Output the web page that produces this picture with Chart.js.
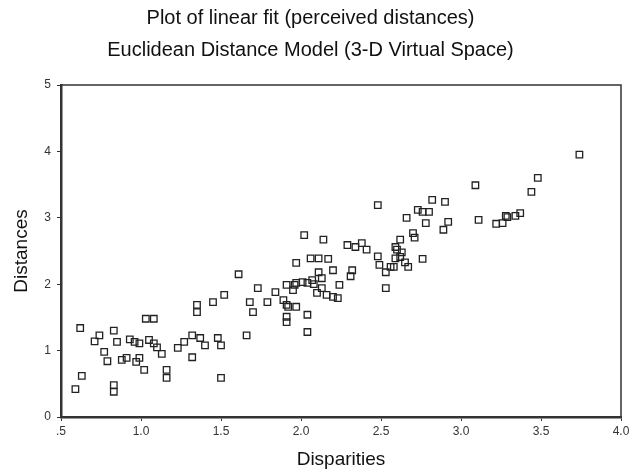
<!DOCTYPE html>
<html>
<head>
<meta charset="utf-8">
<script src="https://cdn.jsdelivr.net/npm/chart.js@4"></script>
<style>
  html, body { margin: 0; padding: 0; background: #fff; }
  #wrap { width: 636px; height: 472px; }
</style>
</head>
<body>
<div id="wrap"><canvas id="chart"></canvas></div>
<script>
const disparities = [
  0.62, 0.71, 0.74, 0.83, 0.85, 0.77, 0.79, 0.93, 0.96, 0.99, 1.03, 1.08, 1.05, 1.08, 1.10,
  1.13, 0.88, 0.91, 0.97, 0.99, 1.02, 1.16, 1.16, 0.63, 0.59, 0.83, 0.83, 1.23, 1.27,
  1.97, 2.06, 2.11, 1.61, 1.73, 1.91, 1.97, 2.01, 2.04, 2.07, 1.52, 1.45, 1.35, 1.35, 1.68,
  1.70, 1.79, 1.84, 1.89, 1.91, 1.91, 1.91, 1.97, 2.04, 2.04, 1.66, 1.32, 1.37, 1.48, 1.50,
  1.40, 1.32, 1.50,
  2.48, 2.02, 2.14, 2.29, 2.34, 2.38, 2.41, 2.17, 2.20, 2.32, 2.31, 2.48, 2.49, 2.53, 2.56,
  2.59, 2.60, 2.53, 2.11, 2.13, 2.08, 1.96, 2.24, 2.13, 2.16, 2.20, 2.23, 1.92, 2.10, 1.95,
  3.09, 2.82, 2.90, 2.73, 2.76, 2.80, 2.66, 2.78, 2.92, 2.89, 3.11, 3.22, 3.26, 3.29, 2.70,
  2.71, 2.62, 2.59, 2.63, 2.62, 2.65, 2.76, 2.67, 2.58,
  3.74, 3.48, 3.44, 3.28, 3.34, 3.37
];
const distances = [
  1.34, 1.14, 1.23, 1.30, 1.13, 0.98, 0.84, 1.17, 1.13, 1.11, 1.48, 1.48, 1.16, 1.11, 1.05,
  0.95, 0.86, 0.89, 0.83, 0.89, 0.71, 0.71, 0.59, 0.62, 0.42, 0.48, 0.38, 1.04, 1.13,
  2.32, 2.39, 2.39, 2.15, 1.94, 1.99, 2.02, 2.03, 2.02, 2.06, 1.84, 1.73, 1.69, 1.58, 1.73,
  1.58, 1.73, 1.88, 1.76, 1.69, 1.51, 1.43, 1.66, 1.54, 1.28, 1.23, 1.23, 1.19, 1.19, 1.08,
  1.08, 0.90, 0.59,
  3.19, 2.74, 2.67, 2.59, 2.56, 2.62, 2.52, 2.38, 2.21, 2.21, 2.12, 2.42, 2.29, 2.18, 2.26,
  2.39, 2.52, 1.94, 2.18, 2.09, 2.00, 1.99, 1.99, 1.94, 1.84, 1.81, 1.79, 1.66, 1.87, 1.91,
  3.49, 3.27, 3.24, 3.12, 3.09, 3.09, 3.00, 2.92, 2.94, 2.82, 2.97, 2.91, 2.92, 3.01, 2.77,
  2.70, 2.67, 2.56, 2.48, 2.41, 2.33, 2.38, 2.26, 2.26,
  3.95, 3.60, 3.39, 3.03, 3.03, 3.07
];
const titleLines = ['Plot of linear fit (perceived distances)', 'Euclidean Distance Model (3-D Virtual Space)'];
const xTitle = 'Disparities';
const yTitle = 'Distances';

const points = disparities.map((d, i) => ({ x: d, y: distances[i] }));
const font = 'Liberation Sans, Arial, sans-serif';

// thin frame on top/right of the plot area
const frame = {
  id: 'frame',
  afterDatasetsDraw(chart) {
    const { ctx, chartArea: a } = chart;
    ctx.save();
    ctx.strokeStyle = '#333';
    ctx.lineWidth = 1.5;
    ctx.beginPath();
    ctx.moveTo(a.left, a.top);
    ctx.lineTo(a.right, a.top);
    ctx.lineTo(a.right, a.bottom);
    ctx.stroke();
    ctx.restore();
  }
};

new Chart(document.getElementById('chart'), {
  type: 'scatter',
  data: {
    datasets: [{
      data: points,
      pointStyle: 'rect',
      pointRadius: 4.6,
      pointHoverRadius: 4.6,
      borderColor: '#222',
      backgroundColor: 'rgba(255,255,255,0)',
      borderWidth: 1.3
    }]
  },
  options: {
    responsive: true,
    maintainAspectRatio: false,
    animation: false,
    layout: { padding: { left: 0, right: 15, top: 0, bottom: 0 } },
    plugins: {
      legend: { display: false },
      tooltip: { enabled: false },
      title: {
        display: true,
        text: titleLines,
        color: '#111',
        font: { family: font, size: 20, weight: 'normal', lineHeight: 1.6 },
        padding: { top: 2, bottom: 19 }
      }
    },
    scales: {
      x: {
        type: 'linear',
        min: 0.5,
        max: 4,
        afterFit: s => { s.height = 55; },
        border: { display: true, color: '#333', width: 2.5 },
        grid: { drawOnChartArea: false, drawTicks: true, tickLength: 4, color: '#333' },
        ticks: {
          stepSize: 0.5,
          padding: 3,
          color: '#333',
          font: { family: font, size: 12 },
          maxRotation: 0,
          callback: v => v === 0.5 ? '.5' : v.toFixed(1)
        },
        title: { display: true, text: xTitle, color: '#111', font: { family: font, size: 19, lineHeight: 1.2 }, padding: { top: 0, bottom: 1 } }
      },
      y: {
        type: 'linear',
        min: 0,
        max: 5,
        afterFit: s => { s.width = 61; },
        border: { display: true, color: '#333', width: 2.5 },
        grid: { drawOnChartArea: false, drawTicks: true, tickLength: 4, color: '#333' },
        ticks: {
          stepSize: 1,
          padding: 6,
          color: '#333',
          font: { family: font, size: 12 }
        },
        title: { display: true, text: yTitle, color: '#111', font: { family: font, size: 19, lineHeight: 1.2 }, padding: { top: 10, bottom: 0 } }
      }
    }
  },
  plugins: [frame]
});
</script>
</body>
</html>
